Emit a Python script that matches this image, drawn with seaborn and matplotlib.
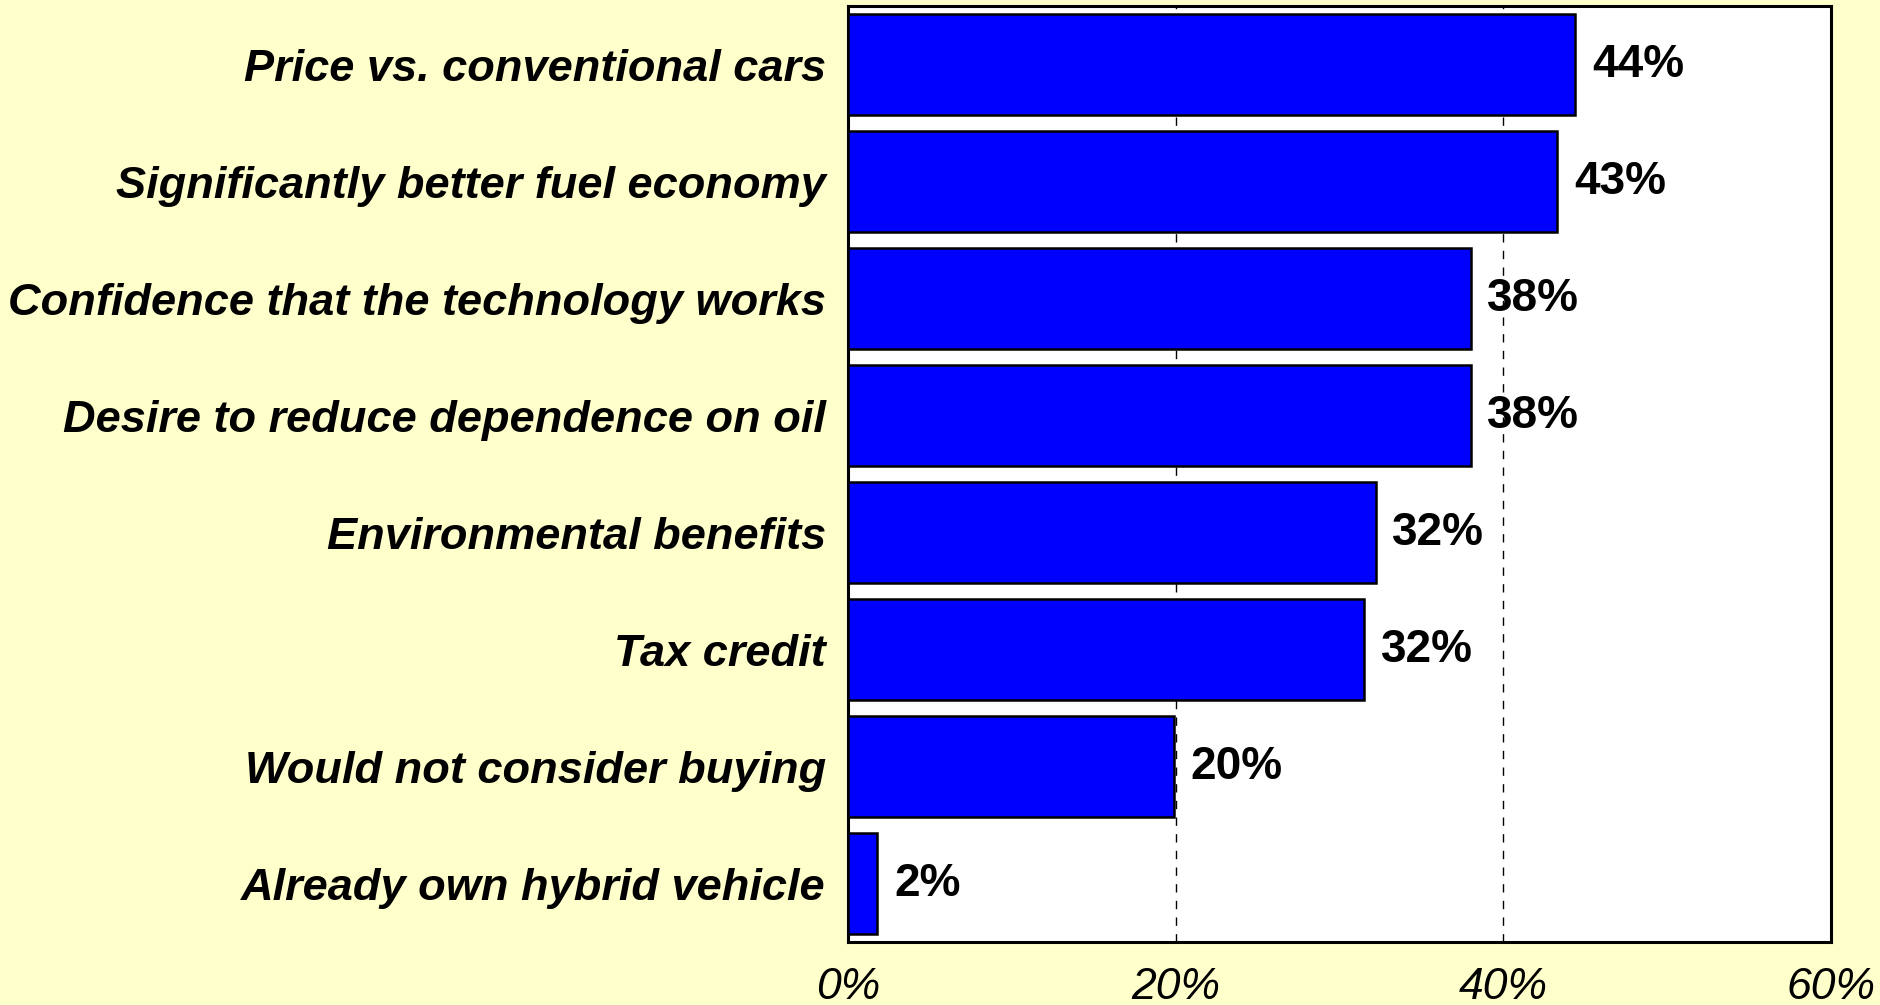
import matplotlib
matplotlib.use("Agg")
import matplotlib.pyplot as plt
import seaborn as sns
import pandas as pd
from matplotlib import font_manager

categories = [
    "Price vs. conventional cars",
    "Significantly better fuel economy",
    "Confidence that the technology works",
    "Desire to reduce dependence on oil",
    "Environmental benefits",
    "Tax credit",
    "Would not consider buying",
    "Already own hybrid vehicle",
]
values = [44.4, 43.3, 38.0, 38.0, 32.2, 31.5, 19.9, 1.8]
value_labels = ["44%", "43%", "38%", "38%", "32%", "32%", "20%", "2%"]
xticks = [0, 20, 40, 60]
xtick_labels = ["0%", "20%", "40%", "60%"]

sns.set_theme(style="white")
names = {f.name for f in font_manager.fontManager.ttflist}
fam = "Liberation Sans Narrow" if "Liberation Sans Narrow" in names else "Liberation Sans"
plt.rcParams["font.family"] = [fam, "DejaVu Sans"]
plt.rcParams["text.color"] = "black"
plt.rcParams["xtick.color"] = "black"
plt.rcParams["ytick.color"] = "black"

df = pd.DataFrame({"category": categories, "value": values})

fig = plt.figure(figsize=(18.81, 10.05), dpi=100)
fig.patch.set_facecolor("#FFFFCC")
ax = fig.add_axes([848 / 1881, 1 - 942 / 1005, (1831 - 848) / 1881, (942 - 6) / 1005])
ax.set_facecolor("white")

sns.barplot(data=df, x="value", y="category", orient="h", color="#0000FF",
            saturation=1, edgecolor="black", linewidth=1.8, width=0.86, ax=ax, zorder=3)

ax.set_xlim(0, 60)
ax.set_ylim(len(categories) - 0.5, -0.5)
ax.set_xticks(xticks)
ax.set_xticklabels(xtick_labels, fontsize=32, fontstyle="italic", color="black")
ax.set_yticks(range(len(categories)))
ax.set_yticklabels(categories, fontsize=32.5, fontweight="bold", fontstyle="italic", color="black")
ax.tick_params(axis="x", length=0, pad=18)
ax.tick_params(axis="y", length=0, pad=16)
ax.set_xlabel("")
ax.set_ylabel("")

for x in [20, 40]:
    ax.axvline(x, color="black", linestyle=(0, (6, 6)), linewidth=1.0, zorder=1)

for i, (v, lab) in enumerate(zip(values, value_labels)):
    ax.annotate(lab, xy=(v, i), xytext=(12, 0), textcoords="offset points",
                va="center", ha="left", fontsize=33, fontweight="bold", color="black")

for s in ax.spines.values():
    s.set_visible(True)
    s.set_color("black")
    s.set_linewidth(2.2)

fig.savefig("out.png", dpi=100, facecolor=fig.get_facecolor())
